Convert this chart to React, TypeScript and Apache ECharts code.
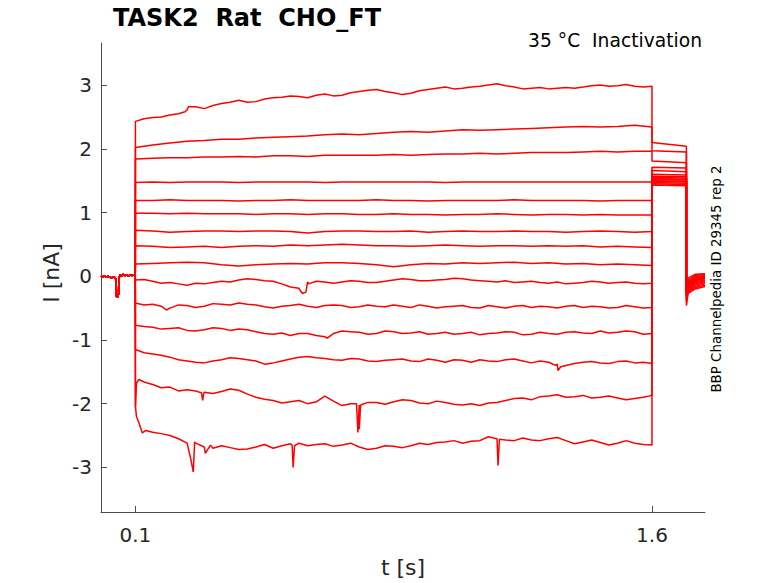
import React, { useEffect, useRef } from 'react';
import * as echarts from 'echarts';

// time grid of the conditioning step (s)
const stepTimes = [
  0.1, 0.15, 0.2, 0.25, 0.3, 0.35, 0.4, 0.45, 0.5, 0.55, 0.6, 0.65, 0.7, 0.75, 0.8, 0.85,
  0.9, 0.95, 1.0, 1.05, 1.1, 1.15, 1.2, 1.25, 1.3, 1.35, 1.4, 1.45, 1.5, 1.55, 1.6,
];
// in-between samples for the noisier sweeps (s)
const midTimes = [
  0.125, 0.175, 0.225, 0.275, 0.325, 0.375, 0.425, 0.475, 0.525, 0.575, 0.625, 0.675, 0.725,
  0.775, 0.825, 0.875, 0.925, 0.975, 1.025, 1.075, 1.125, 1.175, 1.225, 1.275, 1.325, 1.375,
  1.425, 1.475, 1.525, 1.575,
];

// holding current before the step (nA)
const baselineTimes = [
  0, 0.005, 0.01, 0.015, 0.02, 0.025, 0.03, 0.035, 0.04, 0.043, 0.044, 0.046, 0.049, 0.051,
  0.052, 0.055, 0.06, 0.065, 0.07, 0.075, 0.08, 0.085, 0.09, 0.095, 0.0995,
];
const baselineCurrent = [
  0.0, -0.01, 0.01, -0.02, 0.0, -0.01, -0.03, -0.01, -0.02, -0.05, -0.3, -0.33, -0.32, -0.28,
  -0.04, 0.02, 0.0, 0.03, 0.01, 0.02, 0.0, 0.02, 0.01, 0.02, 0.01,
];

// current during the step, one value per stepTimes entry (nA)
const sweep01 = [2.43, 2.49, 2.53, 2.61, 2.63, 2.71, 2.76, 2.74, 2.8, 2.83, 2.8, 2.86, 2.84, 2.9, 2.93, 2.88, 2.87, 2.93, 2.97, 2.95, 2.98, 3.02, 2.97, 2.95, 2.94, 2.96, 2.97, 3.0, 2.99, 2.98, 2.98];
const sweep02 = [2.02, 2.06, 2.09, 2.12, 2.13, 2.15, 2.15, 2.17, 2.18, 2.19, 2.2, 2.22, 2.23, 2.22, 2.24, 2.26, 2.27, 2.26, 2.28, 2.3, 2.29, 2.3, 2.31, 2.32, 2.33, 2.34, 2.35, 2.34, 2.35, 2.37, 2.34];
const sweep03 = [1.84, 1.85, 1.86, 1.86, 1.87, 1.87, 1.88, 1.87, 1.89, 1.89, 1.88, 1.9, 1.9, 1.9, 1.9, 1.91, 1.9, 1.91, 1.92, 1.92, 1.93, 1.92, 1.93, 1.94, 1.94, 1.94, 1.95, 1.96, 1.95, 1.96, 1.96];
const sweep04 = [1.47, 1.48, 1.47, 1.48, 1.48, 1.48, 1.47, 1.48, 1.48, 1.48, 1.48, 1.47, 1.48, 1.48, 1.48, 1.48, 1.48, 1.48, 1.47, 1.48, 1.48, 1.48, 1.48, 1.48, 1.48, 1.48, 1.48, 1.48, 1.48, 1.48, 1.48];
const sweep05 = [1.19, 1.19, 1.2, 1.19, 1.19, 1.19, 1.18, 1.19, 1.19, 1.2, 1.19, 1.19, 1.19, 1.19, 1.2, 1.19, 1.19, 1.18, 1.19, 1.19, 1.19, 1.19, 1.2, 1.19, 1.19, 1.19, 1.19, 1.18, 1.19, 1.19, 1.19];
const sweep06 = [0.99, 0.99, 0.98, 0.99, 0.98, 0.98, 0.98, 0.97, 0.98, 0.98, 0.97, 0.98, 0.98, 0.97, 0.97, 0.98, 0.97, 0.97, 0.96, 0.97, 0.97, 0.98, 0.97, 0.96, 0.97, 0.97, 0.96, 0.97, 0.96, 0.96, 0.96];
const sweep07 = [0.72, 0.71, 0.69, 0.7, 0.71, 0.71, 0.7, 0.71, 0.71, 0.7, 0.68, 0.7, 0.71, 0.71, 0.7, 0.7, 0.71, 0.69, 0.7, 0.71, 0.7, 0.7, 0.71, 0.7, 0.7, 0.69, 0.7, 0.71, 0.7, 0.69, 0.7];
const sweep08 = [0.48, 0.47, 0.45, 0.46, 0.47, 0.45, 0.47, 0.48, 0.47, 0.49, 0.48, 0.49, 0.5, 0.49, 0.48, 0.48, 0.47, 0.48, 0.49, 0.48, 0.47, 0.48, 0.48, 0.47, 0.48, 0.47, 0.48, 0.46, 0.47, 0.46, 0.45];
const sweep09 = [0.19, 0.2, 0.21, 0.22, 0.21, 0.18, 0.16, 0.18, 0.19, 0.2, 0.19, 0.21, 0.21, 0.2, 0.18, 0.15, 0.18, 0.2, 0.19, 0.21, 0.2, 0.21, 0.22, 0.2, 0.21, 0.19, 0.2, 0.18, 0.19, 0.18, 0.17];
const sweep10 = [-0.06, -0.08, -0.1, -0.14, -0.12, -0.08, -0.06, -0.05, -0.08, -0.17, -0.09, -0.09, -0.09, -0.08, -0.1, -0.06, -0.05, -0.07, -0.05, -0.04, -0.07, -0.09, -0.1, -0.08, -0.11, -0.12, -0.1, -0.09, -0.1, -0.11, -0.11];
const sweep11 = [-0.42, -0.44, -0.5, -0.46, -0.47, -0.44, -0.42, -0.45, -0.5, -0.46, -0.47, -0.46, -0.46, -0.48, -0.47, -0.45, -0.49, -0.47, -0.48, -0.46, -0.5, -0.48, -0.47, -0.49, -0.48, -0.47, -0.49, -0.48, -0.49, -0.48, -0.49];
const sweep12 = [-0.77, -0.8, -0.82, -0.85, -0.84, -0.82, -0.83, -0.87, -0.91, -0.93, -0.9, -0.95, -0.86, -0.88, -0.9, -0.87, -0.89, -0.91, -0.88, -0.9, -0.92, -0.89, -0.88, -0.91, -0.9, -0.88, -0.89, -0.86, -0.88, -0.87, -0.9];
const sweep13 = [-1.15, -1.22, -1.27, -1.33, -1.36, -1.31, -1.29, -1.33, -1.36, -1.3, -1.26, -1.29, -1.32, -1.3, -1.34, -1.31, -1.33, -1.3, -1.35, -1.32, -1.31, -1.34, -1.3, -1.36, -1.35, -1.4, -1.35, -1.36, -1.34, -1.36, -1.37];
const sweep14 = [-2.05, -1.7, -1.74, -1.78, -1.82, -1.81, -1.79, -1.9, -1.95, -1.97, -2.0, -1.88, -2.03, -2.02, -1.98, -1.97, -1.95, -2.0, -1.98, -2.02, -2.03, -1.98, -1.92, -1.94, -1.88, -1.9, -1.87, -1.9, -1.91, -1.92, -1.87];
const sweep15 = [-2.05, -2.45, -2.5, -2.62, -2.68, -2.66, -2.72, -2.68, -2.7, -2.63, -2.66, -2.63, -2.65, -2.68, -2.7, -2.67, -2.66, -2.64, -2.6, -2.62, -2.58, -2.55, -2.58, -2.57, -2.55, -2.58, -2.6, -2.61, -2.62, -2.62, -2.65];

const sweepSteps = [
  sweep01, sweep02, sweep03, sweep04, sweep05, sweep06, sweep07, sweep08,
  sweep09, sweep10, sweep11, sweep12, sweep13, sweep14, sweep15,
];

// in-between values, one per midTimes entry (empty = smooth sweep)
const mid01 = [2.47, 2.5, 2.55, 2.66, 2.68, 2.73, 2.73, 2.78, 2.81, 2.82, 2.84, 2.83, 2.88, 2.92, 2.9, 2.85, 2.91, 2.95, 2.94, 2.97, 3.0, 2.99, 2.94, 2.96, 2.95, 2.95, 2.99, 2.98, 3.01, 2.97];
const mid10 = [-0.05, -0.11, -0.12, -0.11, -0.1, -0.09, -0.04, -0.07, -0.12, -0.19, -0.08, -0.11, -0.07, -0.1, -0.08, -0.04, -0.07, -0.06, -0.03, -0.06, -0.08, -0.07, -0.09, -0.1, -0.09, -0.11, -0.08, -0.11, -0.09, -0.12];
const mid11 = [-0.45, -0.47, -0.45, -0.49, -0.43, -0.45, -0.44, -0.48, -0.47, -0.44, -0.49, -0.45, -0.49, -0.45, -0.48, -0.47, -0.45, -0.5, -0.47, -0.49, -0.46, -0.5, -0.46, -0.47, -0.5, -0.46, -0.47, -0.5, -0.46, -0.5];
const mid12 = [-0.79, -0.83, -0.81, -0.86, -0.81, -0.85, -0.84, -0.9, -0.89, -0.9, -0.93, -0.9, -0.87, -0.91, -0.86, -0.9, -0.87, -0.9, -0.91, -0.88, -0.9, -0.87, -0.92, -0.88, -0.91, -0.87, -0.9, -0.89, -0.86, -0.91];
const mid13 = [-1.2, -1.24, -1.31, -1.35, -1.33, -1.28, -1.31, -1.38, -1.33, -1.27, -1.28, -1.31, -1.29, -1.33, -1.32, -1.3, -1.34, -1.32, -1.31, -1.35, -1.33, -1.31, -1.33, -1.33, -1.38, -1.37, -1.34, -1.37, -1.33, -1.35];
const mid14 = [-1.66, -1.75, -1.8, -1.8, -1.84, -1.77, -1.85, -1.93, -1.99, -1.95, -1.97, -1.96, -2.0, -1.98, -2.01, -1.94, -1.99, -1.96, -2.01, -2.0, -1.99, -1.95, -1.91, -1.89, -1.86, -1.89, -1.91, -1.88, -1.94, -1.9];
const mid15 = [-2.44, -2.47, -2.55, -2.62, -2.7, -2.69, -2.71, -2.64, -2.66, -2.62, -2.64, -2.67, -2.62, -2.72, -2.66, -2.69, -2.62, -2.61, -2.58, -2.59, -2.52, -2.57, -2.54, -2.58, -2.53, -2.63, -2.57, -2.65, -2.58, -2.64];

const sweepMids = [mid01, [], [], [], [], [], [], [], [], mid10, mid11, mid12, mid13, mid14, mid15];

// short transients and spikes: [t, I]
const sweepEvents: number[][][] = [
  [[0.244, 2.58], [0.254, 2.66]],
  [],
  [],
  [],
  [],
  [],
  [],
  [],
  [],
  [[0.578, -0.22], [0.585, -0.27], [0.595, -0.25], [0.603, -0.12]],
  [[0.19, -0.53]],
  [[0.657, -0.97]],
  [[1.32, -1.4], [1.327, -1.48], [1.335, -1.42]],
  [[0.103, -1.68], [0.11, -1.62], [0.292, -1.83], [0.295, -1.95], [0.299, -1.83], [0.742, -2.0], [0.746, -2.45], [0.75, -2.4], [0.754, -2.02]],
  [[0.103, -2.2], [0.11, -2.3], [0.12, -2.46], [0.13, -2.42], [0.26, -2.85], [0.268, -3.07], [0.272, -2.6], [0.303, -2.78], [0.318, -2.65], [0.555, -2.65], [0.558, -3.0], [0.562, -2.66], [1.15, -2.55], [1.153, -2.97], [1.157, -2.56]],
];

// test pulse 1.6 - 1.7 s
const tailStart = [2.1, 1.97, 1.81, 1.71, 1.66, 1.6, 1.57, 1.55, 1.53, 1.52, 1.5, 1.49, 1.47, 1.45, 1.43];
const tailEnd = [2.04, 1.95, 1.78, 1.7, 1.64, 1.59, 1.56, 1.54, 1.52, 1.51, 1.49, 1.48, 1.46, 1.44, 1.42];

// recovery after the test pulse
const recoveryTimes = [1.7, 1.705, 1.725, 1.754];
const recoveryDip = [-0.46, -0.4, -0.36, -0.32, -0.3, -0.28, -0.26, -0.25, -0.24, -0.22, -0.21, -0.2, -0.19, -0.18, -0.16];
const recoveryEarly = [-0.27, -0.25, -0.23, -0.21, -0.19, -0.18, -0.16, -0.15, -0.14, -0.13, -0.12, -0.1, -0.09, -0.06, -0.03];
const recoveryMid = [-0.2, -0.18, -0.16, -0.14, -0.12, -0.1, -0.09, -0.07, -0.06, -0.05, -0.04, -0.02, -0.01, 0.01, 0.03];
const recoveryEnd = [-0.16, -0.14, -0.12, -0.1, -0.09, -0.07, -0.06, -0.04, -0.03, -0.02, -0.01, 0.0, 0.01, 0.03, 0.04];

const xTicks = [0.1, 1.6];
const yTicks = [-3, -2, -1, 0, 1, 2, 3];

const FONT = 'DejaVu Sans';

function buildSweep(i: number): number[][] {
  const pre = baselineTimes.map((t, k) => [t, baselineCurrent[k]]);
  const mids = sweepMids[i].map((v, k) => [midTimes[k], v]);
  const step = stepTimes
    .map((t, k) => [t, sweepSteps[i][k]])
    .concat(mids, sweepEvents[i])
    .sort((a, b) => a[0] - b[0]);
  const rec = [recoveryDip[i], recoveryEarly[i], recoveryMid[i], recoveryEnd[i]];
  return [
    ...pre,
    [0.1, baselineCurrent[baselineCurrent.length - 1]],
    ...step,
    [1.6, tailStart[i]],
    [1.7, tailEnd[i]],
    ...recoveryTimes.map((t, k) => [t, rec[k]]),
  ];
}

const App: React.FC = () => {
  const chartRef = useRef<HTMLDivElement>(null);

  useEffect(() => {
    if (!chartRef.current) return;
    const chart = echarts.init(chartRef.current, null, { renderer: 'svg' });

    const axisColor = '#4d4d4d';
    const labelColor = '#262626';

    chart.setOption({
      animation: false,
      backgroundColor: '#ffffff',
      grid: { left: 101, top: 43, right: 73, bottom: 71 },
      xAxis: {
        type: 'value',
        min: 0,
        max: 1.754,
        axisLine: { show: true, onZero: false, lineStyle: { color: axisColor, width: 1 } },
        axisTick: { show: true, inside: true, length: 6, customValues: xTicks, lineStyle: { color: axisColor } },
        axisLabel: {
          customValues: xTicks,
          formatter: (v: number) => String(v),
          fontSize: 20,
          fontFamily: FONT,
          color: labelColor,
          margin: 13,
        },
        splitLine: { show: false },
      },
      yAxis: {
        type: 'value',
        min: -3.7,
        max: 3.66,
        axisLine: { show: true, onZero: false, lineStyle: { color: axisColor, width: 1 } },
        axisTick: { show: true, inside: true, length: 6, customValues: yTicks, lineStyle: { color: axisColor } },
        axisLabel: {
          customValues: yTicks,
          formatter: (v: number) => String(v),
          fontSize: 20,
          fontFamily: FONT,
          color: labelColor,
          margin: 9,
        },
        splitLine: { show: false },
      },
      series: sweepSteps.map((_, i) => ({
        type: 'line',
        data: buildSweep(i),
        showSymbol: false,
        symbol: 'none',
        lineStyle: { color: '#ff0000', width: 1.5 },
        silent: true,
      })),
      graphic: [
        {
          type: 'text',
          x: 113,
          y: 18,
          style: { text: 'TASK2  Rat  CHO_FT', font: `bold 24px "${FONT}"`, fill: '#000', align: 'left', verticalAlign: 'middle' },
        },
        {
          type: 'text',
          x: 702,
          y: 40,
          style: { text: '35 °C  Inactivation', font: `18.7px "${FONT}"`, fill: '#000', align: 'right', verticalAlign: 'middle' },
        },
        {
          type: 'text',
          x: 51,
          y: 273,
          rotation: Math.PI / 2,
          style: { text: 'I [nA]', font: `22px "${FONT}"`, fill: labelColor, align: 'center', verticalAlign: 'middle' },
        },
        {
          type: 'text',
          x: 403,
          y: 567,
          style: { text: 't [s]', font: `22px "${FONT}"`, fill: labelColor, align: 'center', verticalAlign: 'middle' },
        },
        {
          type: 'text',
          x: 716,
          y: 279,
          rotation: Math.PI / 2,
          style: { text: 'BBP Channelpedia ID 29345 rep 2', font: `13.4px "${FONT}"`, fill: '#000', align: 'center', verticalAlign: 'middle' },
        },
      ],
    });

    return () => {
      chart.dispose();
    };
  }, []);

  return (
    <div
      ref={chartRef}
      style={{ position: 'fixed', left: 0, top: 0, width: 778, height: 583, background: '#fff' }}
    />
  );
};

export default App;
